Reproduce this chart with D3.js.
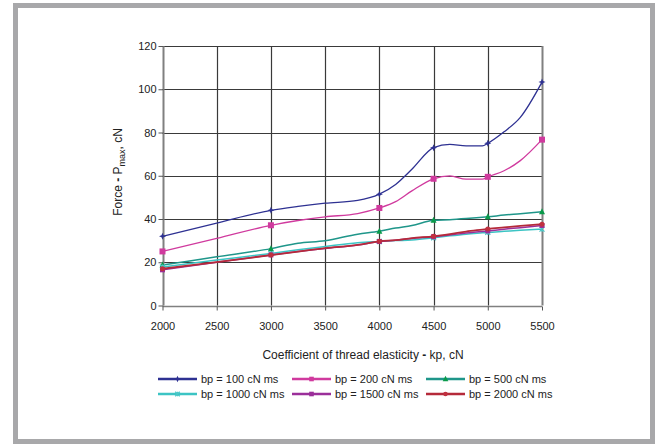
<!DOCTYPE html>
<html><head><meta charset="utf-8">
<script src="https://cdn.jsdelivr.net/npm/d3@7"></script>
<style>body{margin:0;background:#fff}svg{display:block;font-family:"Liberation Sans",Arial,sans-serif}</style>
</head><body>
<svg id="c" width="656" height="444"></svg>
<script>
const kp = [2000,2500,3000,3250,3500,3800,4000,4150,4300,4500,4650,4800,4950,5000,5150,5300,5500];
const markedKp = [2000,3000,4000,4500,5000,5500];
const xTicks = [2000,2500,3000,3500,4000,4500,5000,5500];
const yTicks = [0,20,40,60,80,100,120];
const seriesNames = ["bp = 100 cN ms","bp = 200 cN ms","bp = 500 cN ms","bp = 1000 cN ms","bp = 1500 cN ms","bp = 2000 cN ms"];
const bp100  = [32,38.1,44,45.8,47.3,48.6,51.5,56,63,73,74.5,73.8,73.8,75,80.3,87,103.3];
const bp200  = [25,31,37.1,39.3,41,42.5,45.1,48,53,58.6,59.9,58.4,58.4,59.5,62.3,67,76.7];
const bp500  = [18.7,22.5,26.3,28.8,29.9,33,34.3,35.8,37,39.4,39.7,40.2,40.8,41,41.8,42.4,43.3];
const bp1000 = [17.8,21,24.1,25.8,27.3,29,29.6,30,30.3,31.3,32.2,33,33.6,33.8,34.3,34.8,35.3];
const bp1500 = [16.5,20,23.4,25,26.4,28,29.6,30.2,31,31.8,32.6,33.5,34.2,34.5,35.3,36,37];
const bp2000 = [17,20.1,23.3,24.9,26.5,28,29.7,30.2,31.2,32,33,34.2,35.1,35.4,36.1,36.8,37.6];

const colors = ["#2e3192","#d03a9e","#1f968a","#3cc4c4","#9b2f9a","#b52a3a"];
const markerColors = ["#2e3192","#d03a9e","#0a9a4a","#4cc8c8","#9b2f9a","#c0303f"];
const markerTypes = ["star","square","triangle","cross","square","circle"];
const allSeries = [bp100,bp200,bp500,bp1000,bp1500,bp2000];

const svg = d3.select("#c");
// frame
svg.append("rect").attr("x",15.5).attr("y",5.5).attr("width",637).attr("height",436)
  .attr("fill","none").attr("stroke","#a8a8aa").attr("stroke-width",5);

const x = d3.scaleLinear().domain([2000,5500]).range([162.5,542]);
const y = d3.scaleLinear().domain([0,120]).range([305.5,46]);

// grid
const g = svg.append("g");
g.selectAll(".hg").data(yTicks).join("line")
  .attr("x1",x(2000)).attr("x2",x(5500)).attr("y1",d=>Math.round(y(d))+0.5).attr("y2",d=>Math.round(y(d))+0.5)
  .attr("stroke",d=>d===0?"#808080":"#3a3a3a").attr("stroke-width",d=>d===0?1.5:1.2);
g.selectAll(".vg").data(xTicks).join("line")
  .attr("y1",y(120)).attr("y2",y(0)).attr("x1",d=>Math.round(x(d))+0.5).attr("x2",d=>Math.round(x(d))+0.5)
  .attr("stroke",d=>(d===2000||d===5500)?"#808080":"#3a3a3a").attr("stroke-width",d=>(d===2000||d===5500)?2:1.2);

// axes
const yAxis = d3.axisLeft(y).tickValues(yTicks).tickSize(5).tickSizeOuter(0);
const ya = svg.append("g").attr("transform",`translate(${Math.round(x(2000))+0.5},0)`).call(yAxis);
ya.select(".domain").remove();
ya.selectAll(".tick line").attr("stroke","#555");
ya.selectAll("text").attr("font-size",11).attr("fill","#222").attr("x",-7).attr("font-family","Liberation Sans, Arial, sans-serif");

const xAxis = d3.axisBottom(x).tickValues(xTicks).tickSize(4).tickSizeOuter(0).tickFormat(d3.format("d"));
const xa = svg.append("g").attr("transform",`translate(0,${Math.round(y(0))+0.5})`).call(xAxis);
xa.select(".domain").remove();
xa.selectAll(".tick line").attr("stroke","#555");
xa.selectAll("text").attr("font-size",11).attr("fill","#222").attr("y",16).attr("font-family","Liberation Sans, Arial, sans-serif");

// titles
const xt = svg.append("text").attr("x",363).attr("y",359).attr("text-anchor","middle")
  .attr("font-size",12).attr("fill","#222");
xt.append("tspan").text("Coefficient of thread elasticity ");
xt.append("tspan").attr("font-weight","bold").text("-");
xt.append("tspan").text(" kp, cN");

const yt = svg.append("text").attr("transform","translate(122,172) rotate(-90)").attr("text-anchor","middle")
  .attr("font-size",12).attr("fill","#222");
yt.append("tspan").text("Force ");
yt.append("tspan").attr("font-weight","bold").text("-");
yt.append("tspan").text(" P");
yt.append("tspan").attr("font-size",9).attr("dy",3).text("max");
yt.append("tspan").attr("dy",-3).text(", cN");

// lines
const line = d3.line().x((d,i)=>x(kp[i])).y(d=>y(d)).curve(d3.curveMonotoneX);
function drawMarker(sel, type, color, cx, cy, s){
  if(type==="square") sel.append("rect").attr("x",cx-s).attr("y",cy-s).attr("width",2*s).attr("height",2*s).attr("fill",color);
  else if(type==="triangle") sel.append("path").attr("d",`M${cx},${cy-s-1}L${cx+s+0.5},${cy+s}L${cx-s-0.5},${cy+s}Z`).attr("fill",color);
  else if(type==="circle") sel.append("circle").attr("cx",cx).attr("cy",cy).attr("r",s).attr("fill",color);
  else if(type==="star") sel.append("path").attr("d",`M${cx},${cy-s-1}L${cx+1},${cy-1}L${cx+s+1},${cy}L${cx+1},${cy+1}L${cx},${cy+s+1}L${cx-1},${cy+1}L${cx-s-1},${cy}L${cx-1},${cy-1}Z`).attr("fill",color);
  else if(type==="cross") sel.append("path").attr("d",`M${cx-s},${cy-s}L${cx+s},${cy+s}M${cx+s},${cy-s}L${cx-s},${cy+s}M${cx},${cy-s}L${cx},${cy+s}`).attr("stroke",color).attr("stroke-width",1.3);
}
const widths = [1.3,1.3,1.5,1.5,1.5,1.8];
allSeries.forEach((vals,si)=>{
  svg.append("path").attr("d",line(vals)).attr("fill","none").attr("stroke",colors[si]).attr("stroke-width",widths[si]);
  const mg = svg.append("g");
  vals.forEach((v,i)=>{
    if(markedKp.includes(kp[i])) drawMarker(mg, markerTypes[si], markerColors[si], x(kp[i]), y(v), si===1?3:2.5);
  });
});

// legend
const legX = [158,292,426];
const legY = [379,394];
seriesNames.forEach((name,i)=>{
  const col = i%3, row = Math.floor(i/3);
  const lx = legX[col], ly = legY[row];
  svg.append("line").attr("x1",lx).attr("x2",lx+39).attr("y1",ly).attr("y2",ly)
    .attr("stroke",colors[i]).attr("stroke-width",2.6);
  drawMarker(svg.append("g"), markerTypes[i], markerColors[i], lx+19.5, ly, 2.3);
  svg.append("text").attr("x",lx+43).attr("y",ly+4).attr("font-size",11).attr("fill","#222").text(name);
});
</script>
</body></html>
